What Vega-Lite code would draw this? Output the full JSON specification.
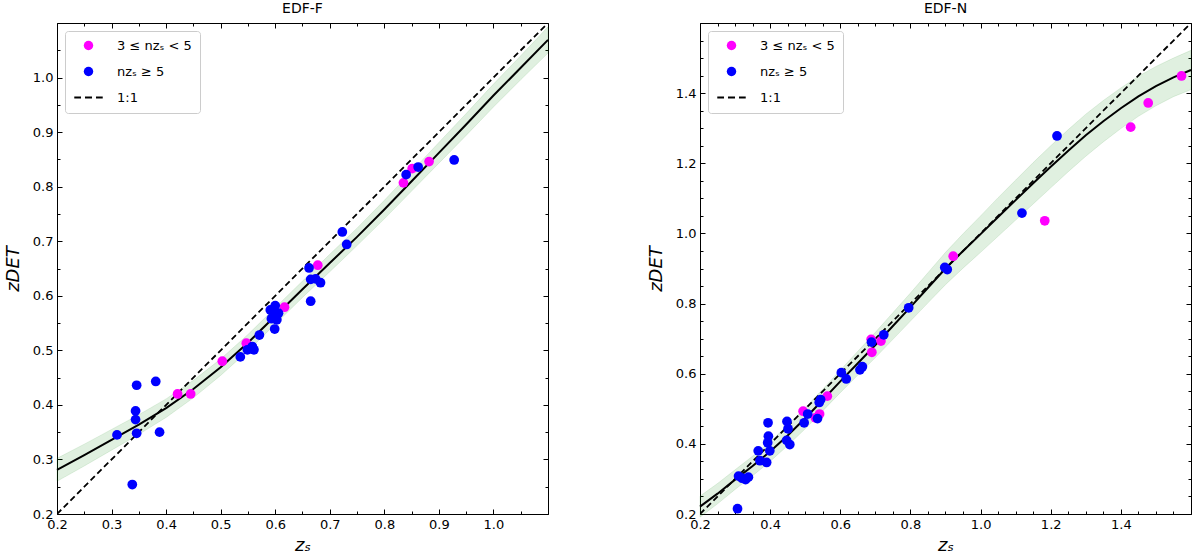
{
  "$schema": "https://vega.github.io/schema/vega-lite/v6.json",
  "background": "white",
  "padding": {"left": 4, "top": 2, "right": 2, "bottom": 2},
  "config": {
    "font": "DejaVu Sans",
    "view": {"stroke": null},
    "axis": {
      "grid": false,
      "domainColor": "black",
      "domainWidth": 1,
      "tickColor": "black",
      "tickWidth": 1,
      "labelFont": "DejaVu Sans",
      "labelFontSize": 13,
      "labelColor": "black",
      "labelFlush": false,
      "labelOverlap": false,
      "titleFont": "DejaVu Sans",
      "titleFontSize": 18,
      "titleFontStyle": "italic",
      "titleFontWeight": "normal",
      "titleColor": "black"
    },
    "legend": {
      "title": null,
      "orient": "top-left",
      "offset": 8,
      "fillColor": "white",
      "strokeColor": "#cccccc",
      "cornerRadius": 3,
      "padding": 8,
      "labelFont": "DejaVu Sans",
      "labelFontSize": 13,
      "labelColor": "black",
      "symbolSize": 90,
      "rowPadding": 12,
      "symbolOffset": 9,
      "labelOffset": 22
    },
    "title": {"font": "DejaVu Sans", "fontSize": 14, "fontWeight": "normal", "color": "black", "offset": 1}
  },
  "datasets": {
    "F_points": [
      {"zs": 0.310, "zdet": 0.345, "group": "nzₛ ≥ 5"},
      {"zs": 0.338, "zdet": 0.254, "group": "nzₛ ≥ 5"},
      {"zs": 0.346, "zdet": 0.436, "group": "nzₛ ≥ 5"},
      {"zs": 0.344, "zdet": 0.389, "group": "nzₛ ≥ 5"},
      {"zs": 0.344, "zdet": 0.373, "group": "nzₛ ≥ 5"},
      {"zs": 0.346, "zdet": 0.348, "group": "nzₛ ≥ 5"},
      {"zs": 0.381, "zdet": 0.443, "group": "nzₛ ≥ 5"},
      {"zs": 0.388, "zdet": 0.350, "group": "nzₛ ≥ 5"},
      {"zs": 0.421, "zdet": 0.420, "group": "3 ≤ nzₛ < 5"},
      {"zs": 0.445, "zdet": 0.420, "group": "3 ≤ nzₛ < 5"},
      {"zs": 0.503, "zdet": 0.480, "group": "3 ≤ nzₛ < 5"},
      {"zs": 0.547, "zdet": 0.513, "group": "3 ≤ nzₛ < 5"},
      {"zs": 0.536, "zdet": 0.488, "group": "nzₛ ≥ 5"},
      {"zs": 0.549, "zdet": 0.501, "group": "nzₛ ≥ 5"},
      {"zs": 0.558, "zdet": 0.507, "group": "nzₛ ≥ 5"},
      {"zs": 0.561, "zdet": 0.501, "group": "nzₛ ≥ 5"},
      {"zs": 0.571, "zdet": 0.528, "group": "nzₛ ≥ 5"},
      {"zs": 0.617, "zdet": 0.579, "group": "3 ≤ nzₛ < 5"},
      {"zs": 0.599, "zdet": 0.539, "group": "nzₛ ≥ 5"},
      {"zs": 0.593, "zdet": 0.558, "group": "nzₛ ≥ 5"},
      {"zs": 0.603, "zdet": 0.556, "group": "nzₛ ≥ 5"},
      {"zs": 0.597, "zdet": 0.565, "group": "nzₛ ≥ 5"},
      {"zs": 0.591, "zdet": 0.574, "group": "nzₛ ≥ 5"},
      {"zs": 0.600, "zdet": 0.582, "group": "nzₛ ≥ 5"},
      {"zs": 0.606, "zdet": 0.568, "group": "nzₛ ≥ 5"},
      {"zs": 0.678, "zdet": 0.656, "group": "3 ≤ nzₛ < 5"},
      {"zs": 0.662, "zdet": 0.651, "group": "nzₛ ≥ 5"},
      {"zs": 0.665, "zdet": 0.630, "group": "nzₛ ≥ 5"},
      {"zs": 0.674, "zdet": 0.631, "group": "nzₛ ≥ 5"},
      {"zs": 0.683, "zdet": 0.624, "group": "nzₛ ≥ 5"},
      {"zs": 0.665, "zdet": 0.590, "group": "nzₛ ≥ 5"},
      {"zs": 0.723, "zdet": 0.717, "group": "nzₛ ≥ 5"},
      {"zs": 0.731, "zdet": 0.694, "group": "nzₛ ≥ 5"},
      {"zs": 0.835, "zdet": 0.807, "group": "3 ≤ nzₛ < 5"},
      {"zs": 0.851, "zdet": 0.833, "group": "3 ≤ nzₛ < 5"},
      {"zs": 0.882, "zdet": 0.846, "group": "3 ≤ nzₛ < 5"},
      {"zs": 0.840, "zdet": 0.822, "group": "nzₛ ≥ 5"},
      {"zs": 0.862, "zdet": 0.836, "group": "nzₛ ≥ 5"},
      {"zs": 0.928, "zdet": 0.849, "group": "nzₛ ≥ 5"}
    ],
    "F_fit": [
      {"zs": 0.20, "fit": 0.281, "lo": 0.260, "hi": 0.302},
      {"zs": 0.25, "fit": 0.308, "lo": 0.288, "hi": 0.328},
      {"zs": 0.30, "fit": 0.336, "lo": 0.317, "hi": 0.355},
      {"zs": 0.35, "fit": 0.364, "lo": 0.346, "hi": 0.382},
      {"zs": 0.40, "fit": 0.394, "lo": 0.377, "hi": 0.411},
      {"zs": 0.45, "fit": 0.429, "lo": 0.413, "hi": 0.445},
      {"zs": 0.50, "fit": 0.469, "lo": 0.454, "hi": 0.484},
      {"zs": 0.55, "fit": 0.514, "lo": 0.499, "hi": 0.529},
      {"zs": 0.60, "fit": 0.563, "lo": 0.548, "hi": 0.578},
      {"zs": 0.65, "fit": 0.612, "lo": 0.597, "hi": 0.627},
      {"zs": 0.70, "fit": 0.660, "lo": 0.644, "hi": 0.676},
      {"zs": 0.75, "fit": 0.708, "lo": 0.692, "hi": 0.724},
      {"zs": 0.80, "fit": 0.758, "lo": 0.741, "hi": 0.775},
      {"zs": 0.85, "fit": 0.810, "lo": 0.792, "hi": 0.828},
      {"zs": 0.90, "fit": 0.862, "lo": 0.843, "hi": 0.881},
      {"zs": 0.95, "fit": 0.914, "lo": 0.894, "hi": 0.934},
      {"zs": 1.00, "fit": 0.967, "lo": 0.946, "hi": 0.988},
      {"zs": 1.05, "fit": 1.018, "lo": 0.996, "hi": 1.040},
      {"zs": 1.10, "fit": 1.069, "lo": 1.045, "hi": 1.093}
    ],
    "F_one": [
      {"zs": 0.2, "zdet": 0.2},
      {"zs": 1.1, "zdet": 1.1}
    ],
    "N_points": [
      {"zs": 0.307, "zdet": 0.215, "group": "nzₛ ≥ 5"},
      {"zs": 0.310, "zdet": 0.308, "group": "nzₛ ≥ 5"},
      {"zs": 0.320, "zdet": 0.302, "group": "nzₛ ≥ 5"},
      {"zs": 0.330, "zdet": 0.298, "group": "nzₛ ≥ 5"},
      {"zs": 0.338, "zdet": 0.305, "group": "nzₛ ≥ 5"},
      {"zs": 0.366, "zdet": 0.380, "group": "nzₛ ≥ 5"},
      {"zs": 0.371, "zdet": 0.352, "group": "nzₛ ≥ 5"},
      {"zs": 0.390, "zdet": 0.347, "group": "nzₛ ≥ 5"},
      {"zs": 0.394, "zdet": 0.460, "group": "nzₛ ≥ 5"},
      {"zs": 0.395, "zdet": 0.422, "group": "nzₛ ≥ 5"},
      {"zs": 0.393, "zdet": 0.403, "group": "nzₛ ≥ 5"},
      {"zs": 0.399, "zdet": 0.380, "group": "nzₛ ≥ 5"},
      {"zs": 0.448, "zdet": 0.464, "group": "nzₛ ≥ 5"},
      {"zs": 0.451, "zdet": 0.443, "group": "nzₛ ≥ 5"},
      {"zs": 0.447, "zdet": 0.410, "group": "nzₛ ≥ 5"},
      {"zs": 0.456, "zdet": 0.398, "group": "nzₛ ≥ 5"},
      {"zs": 0.494, "zdet": 0.493, "group": "3 ≤ nzₛ < 5"},
      {"zs": 0.529, "zdet": 0.474, "group": "3 ≤ nzₛ < 5"},
      {"zs": 0.541, "zdet": 0.485, "group": "3 ≤ nzₛ < 5"},
      {"zs": 0.563, "zdet": 0.536, "group": "3 ≤ nzₛ < 5"},
      {"zs": 0.497, "zdet": 0.460, "group": "nzₛ ≥ 5"},
      {"zs": 0.507, "zdet": 0.485, "group": "nzₛ ≥ 5"},
      {"zs": 0.535, "zdet": 0.472, "group": "nzₛ ≥ 5"},
      {"zs": 0.540, "zdet": 0.518, "group": "nzₛ ≥ 5"},
      {"zs": 0.544, "zdet": 0.526, "group": "nzₛ ≥ 5"},
      {"zs": 0.603, "zdet": 0.603, "group": "nzₛ ≥ 5"},
      {"zs": 0.617, "zdet": 0.585, "group": "nzₛ ≥ 5"},
      {"zs": 0.656, "zdet": 0.611, "group": "nzₛ ≥ 5"},
      {"zs": 0.663, "zdet": 0.620, "group": "nzₛ ≥ 5"},
      {"zs": 0.688, "zdet": 0.698, "group": "3 ≤ nzₛ < 5"},
      {"zs": 0.690, "zdet": 0.661, "group": "3 ≤ nzₛ < 5"},
      {"zs": 0.716, "zdet": 0.693, "group": "3 ≤ nzₛ < 5"},
      {"zs": 0.689, "zdet": 0.690, "group": "nzₛ ≥ 5"},
      {"zs": 0.724, "zdet": 0.711, "group": "nzₛ ≥ 5"},
      {"zs": 0.795, "zdet": 0.788, "group": "nzₛ ≥ 5"},
      {"zs": 0.922, "zdet": 0.935, "group": "3 ≤ nzₛ < 5"},
      {"zs": 0.898, "zdet": 0.903, "group": "nzₛ ≥ 5"},
      {"zs": 0.905, "zdet": 0.897, "group": "nzₛ ≥ 5"},
      {"zs": 1.118, "zdet": 1.058, "group": "nzₛ ≥ 5"},
      {"zs": 1.218, "zdet": 1.278, "group": "nzₛ ≥ 5"},
      {"zs": 1.183, "zdet": 1.036, "group": "3 ≤ nzₛ < 5"},
      {"zs": 1.428, "zdet": 1.303, "group": "3 ≤ nzₛ < 5"},
      {"zs": 1.478, "zdet": 1.372, "group": "3 ≤ nzₛ < 5"},
      {"zs": 1.573, "zdet": 1.449, "group": "3 ≤ nzₛ < 5"}
    ],
    "N_fit": [
      {"zs": 0.20, "fit": 0.221, "lo": 0.191, "hi": 0.251},
      {"zs": 0.25, "fit": 0.258, "lo": 0.229, "hi": 0.287},
      {"zs": 0.30, "fit": 0.298, "lo": 0.270, "hi": 0.326},
      {"zs": 0.35, "fit": 0.337, "lo": 0.309, "hi": 0.365},
      {"zs": 0.40, "fit": 0.378, "lo": 0.350, "hi": 0.406},
      {"zs": 0.45, "fit": 0.424, "lo": 0.395, "hi": 0.453},
      {"zs": 0.50, "fit": 0.473, "lo": 0.443, "hi": 0.503},
      {"zs": 0.55, "fit": 0.525, "lo": 0.494, "hi": 0.556},
      {"zs": 0.60, "fit": 0.578, "lo": 0.546, "hi": 0.610},
      {"zs": 0.65, "fit": 0.630, "lo": 0.596, "hi": 0.664},
      {"zs": 0.70, "fit": 0.682, "lo": 0.646, "hi": 0.718},
      {"zs": 0.75, "fit": 0.736, "lo": 0.698, "hi": 0.774},
      {"zs": 0.80, "fit": 0.790, "lo": 0.750, "hi": 0.830},
      {"zs": 0.85, "fit": 0.845, "lo": 0.802, "hi": 0.888},
      {"zs": 0.90, "fit": 0.900, "lo": 0.854, "hi": 0.946},
      {"zs": 0.95, "fit": 0.950, "lo": 0.901, "hi": 0.999},
      {"zs": 1.00, "fit": 0.998, "lo": 0.946, "hi": 1.050},
      {"zs": 1.05, "fit": 1.047, "lo": 0.992, "hi": 1.102},
      {"zs": 1.10, "fit": 1.095, "lo": 1.038, "hi": 1.152},
      {"zs": 1.15, "fit": 1.143, "lo": 1.084, "hi": 1.202},
      {"zs": 1.20, "fit": 1.190, "lo": 1.130, "hi": 1.250},
      {"zs": 1.25, "fit": 1.236, "lo": 1.176, "hi": 1.296},
      {"zs": 1.30, "fit": 1.280, "lo": 1.220, "hi": 1.340},
      {"zs": 1.35, "fit": 1.320, "lo": 1.261, "hi": 1.379},
      {"zs": 1.40, "fit": 1.357, "lo": 1.299, "hi": 1.415},
      {"zs": 1.45, "fit": 1.391, "lo": 1.334, "hi": 1.448},
      {"zs": 1.50, "fit": 1.420, "lo": 1.364, "hi": 1.476},
      {"zs": 1.55, "fit": 1.445, "lo": 1.390, "hi": 1.500},
      {"zs": 1.60, "fit": 1.466, "lo": 1.410, "hi": 1.522}
    ],
    "N_one": [
      {"zs": 0.2, "zdet": 0.2},
      {"zs": 1.6, "zdet": 1.6}
    ]
  },
  "hconcat": [
    {
      "title": "EDF-F",
      "width": 491,
      "height": 491,
      "layer": [
        {
          "data": {"name": "F_fit"},
          "mark": {"type": "area", "fill": "green", "fillOpacity": 0.12, "stroke": "green", "strokeOpacity": 0.1, "strokeWidth": 1},
          "encoding": {
            "x": {
              "field": "zs", "type": "quantitative",
              "scale": {"domain": [0.2, 1.1], "nice": false, "zero": false},
              "axis": {
                "orient": "bottom", "title": "zₛ", "titlePadding": 3,
                "values": [0.2, 0.25, 0.3, 0.35, 0.4, 0.45, 0.5, 0.55, 0.6, 0.65, 0.7, 0.75, 0.8, 0.85, 0.9, 0.95, 1.0, 1.05, 1.1],
                "labelExpr": "abs(datum.value*10 - round(datum.value*10)) < 0.001 && datum.value < 1.05 ? format(datum.value, '.1f') : ''",
                "tickSize": {"condition": {"test": "abs(datum.value*10 - round(datum.value*10)) < 0.001", "value": -5}, "value": -3},
                "labelPadding": 9
              }
            },
            "y": {
              "field": "lo", "type": "quantitative",
              "scale": {"domain": [0.2, 1.1], "nice": false, "zero": false},
              "axis": {
                "orient": "left", "title": "zDET", "titlePadding": 10,
                "values": [0.2, 0.25, 0.3, 0.35, 0.4, 0.45, 0.5, 0.55, 0.6, 0.65, 0.7, 0.75, 0.8, 0.85, 0.9, 0.95, 1.0, 1.05, 1.1],
                "labelExpr": "abs(datum.value*10 - round(datum.value*10)) < 0.001 && datum.value < 1.05 ? format(datum.value, '.1f') : ''",
                "tickSize": {"condition": {"test": "abs(datum.value*10 - round(datum.value*10)) < 0.001", "value": -5}, "value": -3},
                "labelPadding": 9
              }
            },
            "y2": {"field": "hi"}
          }
        },
        {
          "data": {"name": "F_fit"},
          "mark": {"type": "line", "color": "black", "strokeWidth": 2},
          "encoding": {
            "x": {
              "field": "zs", "type": "quantitative",
              "scale": {"domain": [0.2, 1.1], "nice": false, "zero": false},
              "axis": {
                "orient": "top", "title": null, "labels": false,
                "values": [0.2, 0.25, 0.3, 0.35, 0.4, 0.45, 0.5, 0.55, 0.6, 0.65, 0.7, 0.75, 0.8, 0.85, 0.9, 0.95, 1.0, 1.05, 1.1],
                "tickSize": {"condition": {"test": "abs(datum.value*10 - round(datum.value*10)) < 0.001", "value": -5}, "value": -3}
              }
            },
            "y": {
              "field": "fit", "type": "quantitative",
              "scale": {"domain": [0.2, 1.1], "nice": false, "zero": false},
              "axis": {
                "orient": "right", "title": null, "labels": false,
                "values": [0.2, 0.25, 0.3, 0.35, 0.4, 0.45, 0.5, 0.55, 0.6, 0.65, 0.7, 0.75, 0.8, 0.85, 0.9, 0.95, 1.0, 1.05, 1.1],
                "tickSize": {"condition": {"test": "abs(datum.value*10 - round(datum.value*10)) < 0.001", "value": -5}, "value": -3}
              }
            }
          }
        },
        {
          "data": {"name": "F_one"},
          "mark": {"type": "line", "color": "black", "strokeWidth": 1.8, "strokeDash": [6, 3.5], "clip": true},
          "encoding": {
            "x": {"field": "zs", "type": "quantitative", "scale": {"domain": [0.2, 1.1], "nice": false, "zero": false}, "axis": null},
            "y": {"field": "zdet", "type": "quantitative", "scale": {"domain": [0.2, 1.1], "nice": false, "zero": false}, "axis": null}
          }
        },
        {
          "data": {"name": "F_points"},
          "mark": {"type": "point", "filled": true, "size": 95, "opacity": 1},
          "encoding": {
            "x": {"field": "zs", "type": "quantitative", "scale": {"domain": [0.2, 1.1], "nice": false, "zero": false}, "axis": null},
            "y": {"field": "zdet", "type": "quantitative", "scale": {"domain": [0.2, 1.1], "nice": false, "zero": false}, "axis": null},
            "color": {
              "field": "group", "type": "nominal",
              "scale": {"domain": ["3 ≤ nzₛ < 5", "nzₛ ≥ 5", "1:1"], "range": ["#ff00ff", "#0000ff", "black"]},
              "legend": {"title": null}
            },
            "shape": {
              "field": "group", "type": "nominal",
              "scale": {
                "domain": ["3 ≤ nzₛ < 5", "nzₛ ≥ 5", "1:1"],
                "range": ["circle", "circle", "M-3,-0.21H-1.58V0.21H-3Z M-0.74,-0.21H0.74V0.21H-0.74Z M1.58,-0.21H3V0.21H1.58Z"]
              },
              "legend": {"title": null}
            }
          }
        }
      ]
    },
    {
      "title": "EDF-N",
      "width": 491,
      "height": 491,
      "layer": [
        {
          "data": {"name": "N_fit"},
          "mark": {"type": "area", "fill": "green", "fillOpacity": 0.12, "stroke": "green", "strokeOpacity": 0.1, "strokeWidth": 1},
          "encoding": {
            "x": {
              "field": "zs", "type": "quantitative",
              "scale": {"domain": [0.2, 1.6], "nice": false, "zero": false},
              "axis": {
                "orient": "bottom", "title": "zₛ", "titlePadding": 3,
                "values": [0.2, 0.25, 0.3, 0.35, 0.4, 0.45, 0.5, 0.55, 0.6, 0.65, 0.7, 0.75, 0.8, 0.85, 0.9, 0.95, 1.0, 1.05, 1.1, 1.15, 1.2, 1.25, 1.3, 1.35, 1.4, 1.45, 1.5, 1.55, 1.6],
                "labelExpr": "abs(datum.value*5 - round(datum.value*5)) < 0.001 && datum.value < 1.5 ? format(datum.value, '.1f') : ''",
                "tickSize": {"condition": {"test": "abs(datum.value*5 - round(datum.value*5)) < 0.001", "value": -5}, "value": -3},
                "labelPadding": 9
              }
            },
            "y": {
              "field": "lo", "type": "quantitative",
              "scale": {"domain": [0.2, 1.6], "nice": false, "zero": false},
              "axis": {
                "orient": "left", "title": "zDET", "titlePadding": 10,
                "values": [0.2, 0.25, 0.3, 0.35, 0.4, 0.45, 0.5, 0.55, 0.6, 0.65, 0.7, 0.75, 0.8, 0.85, 0.9, 0.95, 1.0, 1.05, 1.1, 1.15, 1.2, 1.25, 1.3, 1.35, 1.4, 1.45, 1.5, 1.55, 1.6],
                "labelExpr": "abs(datum.value*5 - round(datum.value*5)) < 0.001 && datum.value < 1.5 ? format(datum.value, '.1f') : ''",
                "tickSize": {"condition": {"test": "abs(datum.value*5 - round(datum.value*5)) < 0.001", "value": -5}, "value": -3},
                "labelPadding": 9
              }
            },
            "y2": {"field": "hi"}
          }
        },
        {
          "data": {"name": "N_fit"},
          "mark": {"type": "line", "color": "black", "strokeWidth": 2},
          "encoding": {
            "x": {
              "field": "zs", "type": "quantitative",
              "scale": {"domain": [0.2, 1.6], "nice": false, "zero": false},
              "axis": {
                "orient": "top", "title": null, "labels": false,
                "values": [0.2, 0.25, 0.3, 0.35, 0.4, 0.45, 0.5, 0.55, 0.6, 0.65, 0.7, 0.75, 0.8, 0.85, 0.9, 0.95, 1.0, 1.05, 1.1, 1.15, 1.2, 1.25, 1.3, 1.35, 1.4, 1.45, 1.5, 1.55, 1.6],
                "tickSize": {"condition": {"test": "abs(datum.value*5 - round(datum.value*5)) < 0.001", "value": -5}, "value": -3}
              }
            },
            "y": {
              "field": "fit", "type": "quantitative",
              "scale": {"domain": [0.2, 1.6], "nice": false, "zero": false},
              "axis": {
                "orient": "right", "title": null, "labels": false,
                "values": [0.2, 0.25, 0.3, 0.35, 0.4, 0.45, 0.5, 0.55, 0.6, 0.65, 0.7, 0.75, 0.8, 0.85, 0.9, 0.95, 1.0, 1.05, 1.1, 1.15, 1.2, 1.25, 1.3, 1.35, 1.4, 1.45, 1.5, 1.55, 1.6],
                "tickSize": {"condition": {"test": "abs(datum.value*5 - round(datum.value*5)) < 0.001", "value": -5}, "value": -3}
              }
            }
          }
        },
        {
          "data": {"name": "N_one"},
          "mark": {"type": "line", "color": "black", "strokeWidth": 1.8, "strokeDash": [6, 3.5], "clip": true},
          "encoding": {
            "x": {"field": "zs", "type": "quantitative", "scale": {"domain": [0.2, 1.6], "nice": false, "zero": false}, "axis": null},
            "y": {"field": "zdet", "type": "quantitative", "scale": {"domain": [0.2, 1.6], "nice": false, "zero": false}, "axis": null}
          }
        },
        {
          "data": {"name": "N_points"},
          "mark": {"type": "point", "filled": true, "size": 95, "opacity": 1},
          "encoding": {
            "x": {"field": "zs", "type": "quantitative", "scale": {"domain": [0.2, 1.6], "nice": false, "zero": false}, "axis": null},
            "y": {"field": "zdet", "type": "quantitative", "scale": {"domain": [0.2, 1.6], "nice": false, "zero": false}, "axis": null},
            "color": {
              "field": "group", "type": "nominal",
              "scale": {"domain": ["3 ≤ nzₛ < 5", "nzₛ ≥ 5", "1:1"], "range": ["#ff00ff", "#0000ff", "black"]},
              "legend": {"title": null}
            },
            "shape": {
              "field": "group", "type": "nominal",
              "scale": {
                "domain": ["3 ≤ nzₛ < 5", "nzₛ ≥ 5", "1:1"],
                "range": ["circle", "circle", "M-3,-0.21H-1.58V0.21H-3Z M-0.74,-0.21H0.74V0.21H-0.74Z M1.58,-0.21H3V0.21H1.58Z"]
              },
              "legend": {"title": null}
            }
          }
        }
      ]
    }
  ],
  "spacing": 95,
  "resolve": {
    "scale": {"color": "independent", "shape": "independent"},
    "legend": {"color": "independent", "shape": "independent"}
  }
}
